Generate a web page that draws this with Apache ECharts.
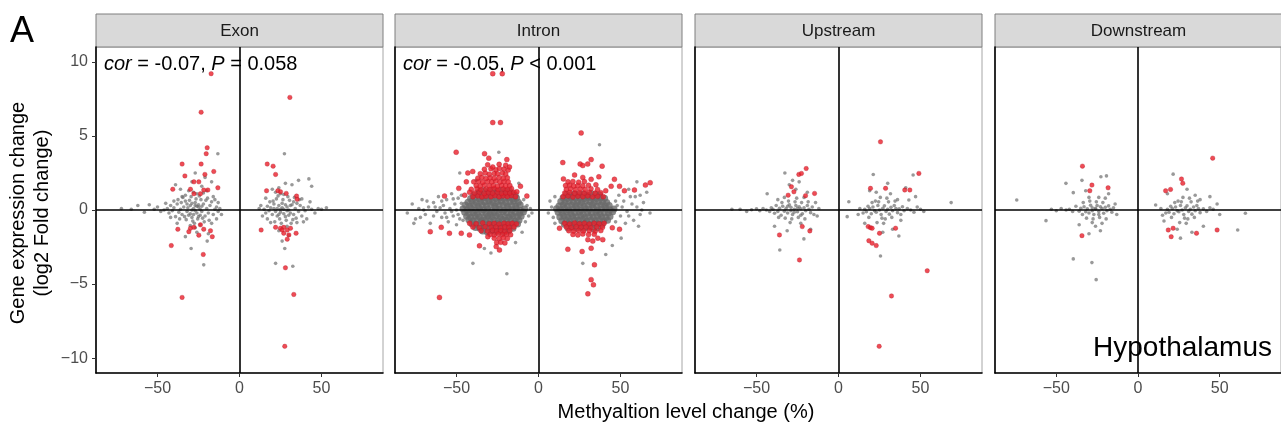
<!DOCTYPE html>
<html>
<head>
<meta charset="utf-8">
<script src="https://cdn.jsdelivr.net/npm/echarts@6/dist/echarts.min.js"></script>
<style>
  html, body { margin: 0; padding: 0; background: #fff; }
  #chart { width: 1281px; height: 427px; }
</style>
</head>
<body>
<div id="chart"></div>
<script>
// facet names and axis ticks
var panels = ['Exon', 'Intron', 'Upstream', 'Downstream'];
var xTicks = [-50, 0, 50];
var yTicks = [-10, -5, 0, 5, 10];
var corLabels = ['{i|cor} = -0.07, {i|P} = 0.058', '{i|cor} = -0.05, {i|P} < 0.001', '', ''];

// ---- Exon ----
var exonGrey = [
  [-28,0.1],[-26,-0.2],[-30,0.3],[-24,0.05],[-32,-0.1],[-27,0.5],[-29,-0.5],[-25,0.35],[-31,-0.35],[-23,-0.1],
  [-34,0.2],[-22,0.4],[-35,-0.3],[-21,-0.4],[-33,0.6],[-26.5,0.75],[-28.5,-0.75],[-20,0.1],[-36,0.05],[-19,-0.2],
  [-37,-0.15],[-18,0.3],[-38,0.4],[-17,0.55],[-39,-0.45],[-16,-0.3],[-40,0.15],[-15,0.05],[-41,-0.05],[-14,0.2],
  [-42,0.3],[-13,-0.1],[-43,-0.2],[-44,0.1],[-46,0.0],[-12,0.1],[-25.5,-0.6],[-30.5,0.65],[-23.5,0.7],[-32.5,-0.65],
  [-27.5,-0.9],[-24.5,0.95],[-29.5,0.9],[-21.5,-0.8],[-34.5,0.85],[-22.5,-0.55],[-35.5,0.5],[-20.5,0.65],[-36.5,-0.6],[-19.5,0.8],
  [-37.5,0.7],[-18.5,-0.7],[-26,1.1],[-30,-1.05],[-24,-1.0],[-33,1.0],[-28,1.2],[-31,1.3],[-22,1.15],[-27,-1.2],
  [-25,0.2],[-29,0.0],[-27,-0.05],[-26,0.25],[-30,-0.25],[-28,-0.3],[-24,-0.35],[-32,0.4],[-23,0.25],[-33.5,-0.45],
  [-31.5,0.15],[-29,0.45],[-25,-0.45],[-27,0.3],[-35,0.9],[-38,-0.9],[-40,0.6],[-42,-0.5],[-45,0.45],[-48,-0.1],
  [-50,0.2],[-52,0.05],[-55,0.35],[-58,-0.15],[-62,0.3],[-66,0.05],[-72,0.1],[-16,0.9],[-14,-0.6],[-17,-0.9],
  [-15,0.7],[-13,0.5],[-11,-0.3],[-20,1.3],[-36,1.4],[-23,1.6],[-29,1.9],[-39,1.7],[-21,2.2],[-19,-1.6],
  [-26,-1.5],[-13.2,3.8],[-21.8,-3.7],[-29.5,-2.6],[-19.7,-2.1],[-33,-1.8],[-27,2.5],[-17,1.9],
  [27,0.05],[25,-0.15],[29,0.2],[23,0.1],[31,-0.2],[26,0.45],[28,-0.45],[24,0.3],[30,-0.35],[22,-0.1],
  [32,0.35],[21,0.4],[33,-0.3],[20,-0.3],[34,0.1],[19,0.15],[35,0.45],[18,-0.05],[36,-0.1],[17,0.25],
  [37,0.3],[16,-0.2],[38,-0.4],[15,0.05],[39,0.15],[40,-0.05],[42,0.2],[44,0.05],[26.5,0.7],[28.5,-0.7],
  [24.5,-0.6],[30.5,0.65],[22.5,0.75],[32.5,-0.65],[20.5,0.6],[34.5,-0.55],[18.5,0.55],[36.5,0.7],[25.5,-0.9],[29.5,0.9],
  [23.5,0.95],[31.5,-0.9],[21.5,-0.8],[33.5,0.85],[27,1.05],[25,1.1],[29,-1.1],[22,1.2],[35,-0.85],[17,-0.6],
  [19,-0.85],[38,0.75],[26,0.15],[28,0.35],[30,0.0],[24,-0.3],[27,-0.25],[25,0.05],[29,-0.05],[31,0.3],
  [23,-0.4],[21,0.1],[33,0.55],[46,-0.2],[48,0.1],[50,0.05],[53,0.15],[41,-0.6],[43,0.55],[14,-0.4],
  [13,0.3],[12,0.1],[16,0.8],[39,-0.8],[24,1.5],[32,1.7],[20,1.4],[28,1.8],[27.4,3.8],[42.3,2.1],
  [44,1.6],[36,2.0],[27.6,-2.6],[22,-3.6],[32.5,-3.8],[30,-1.7],[24,-1.4],[26,-2.1]
];
var exonRed = [
  [-17.3,9.2],[-23.4,6.6],[-19.7,4.2],[-20.3,3.8],[-35,3.1],[-23.4,3.1],[-15.7,2.6],[-33.3,2.3],[-21.1,2.4],
  [-27.8,1.9],[-24.8,1.9],[-13.2,1.5],[-40.7,1.4],[-29.9,1.4],[-21.8,1.35],[-19.3,1.35],[-27.8,1.1],[-23.8,1.1],
  [-37.6,-1.3],[-29.9,-1.23],[-27.8,-1.17],[-30.9,-1.46],[-24.8,-1.7],[-17.7,-1.4],[-16.6,-1.8],[-21.8,-1.3],
  [-41.6,-2.4],[-22.1,-3.0],[-23.8,-1.0],[-35,-5.9],
  [30.7,7.6],[16.9,3.1],[20.5,2.96],[22,2.4],[16.5,1.3],[23.4,1.3],[25,1.23],[28.5,1.12],[34.8,0.94],[35.2,0.72],
  [13.2,-1.35],[22,-1.17],[25,-1.23],[27,-1.17],[29.1,-1.35],[27,-1.57],[30.1,-1.68],[29.1,-1.97],[26,-1.35],[31.1,-1.23],
  [34.5,-1.57],[28,-3.9],[33.1,-5.7],[27.6,-9.2]
];

// ---- Intron ----
// dense cores
var intronGreyCore = [
  [-46,0.08],[-43.5,0.0],[-41,0.12],[-38.5,-0.02],[-36,0.1],[-33.5,0.01],[-31,0.07],[-28.5,-0.03],[-26,0.11],[-23.5,0.04],[-21,-0.01],[-18.5,0.09],[-16,0.02],[-13.5,0.1],[-11,-0.03],[-8.5,0.06],
  [-45,-0.15],[-42.3,-0.24],[-39.8,-0.18],[-37.2,-0.27],[-34.6,-0.14],[-32,-0.22],[-29.5,-0.3],[-27,-0.17],[-24.4,-0.25],[-21.8,-0.12],[-19.3,-0.21],[-16.7,-0.28],[-14.1,-0.16],[-11.6,-0.23],[-9.2,-0.13],
  [-44.5,0.34],[-42,0.26],[-39.3,0.37],[-36.8,0.24],[-34.2,0.33],[-31.7,0.28],[-29.1,0.38],[-26.6,0.25],[-24,0.32],[-21.5,0.36],[-19,0.23],[-16.4,0.31],[-13.9,0.27],[-11.2,0.35],
  [-43.8,-0.42],[-41.2,-0.5],[-38.6,-0.4],[-36,-0.48],[-33.4,-0.52],[-30.9,-0.41],[-28.3,-0.47],[-25.8,-0.39],[-23.2,-0.51],[-20.6,-0.44],[-18.1,-0.49],[-15.5,-0.4],[-13,-0.46],[-10.6,-0.43],
  [-43,0.52],[-40.5,0.6],[-37.9,0.5],[-35.4,0.58],[-32.8,0.54],[-30.2,0.62],[-27.7,0.51],[-25.1,0.57],[-22.6,0.61],[-20,0.5],[-17.5,0.56],[-14.9,0.59],[-12.3,0.53],
  [-42.5,-0.66],[-39.9,-0.74],[-37.3,-0.68],[-34.8,-0.72],[-32.2,-0.65],[-29.6,-0.75],[-27.1,-0.69],[-24.5,-0.73],[-21.9,-0.64],[-19.4,-0.71],[-16.8,-0.67],[-14.2,-0.76],[-11.9,-0.7],
  [-41.4,0.78],[-38.8,0.85],[-36.2,0.76],[-33.6,0.83],[-31.1,0.8],[-28.5,0.86],[-26,0.77],[-23.4,0.82],[-20.8,0.79],[-18.3,0.84],[-15.7,0.75],[-13.4,0.81],
  [-40.6,-0.92],[-38,-0.98],[-35.4,-0.9],[-32.9,-0.97],[-30.3,-0.93],[-27.8,-1.0],[-25.2,-0.91],[-22.6,-0.96],[-20.1,-0.94],[-17.5,-0.99],[-15,-0.9],[-12.8,-0.95],
  [-39.5,1.02],[-36.9,1.08],[-34.3,1.0],[-31.8,1.07],[-29.2,1.03],[-26.6,1.1],[-24.1,1.01],[-21.5,1.06],[-19,1.04],[-16.4,1.09],[-14.2,1.0],
  [-38.4,-1.18],[-35.8,-1.24],[-33.2,-1.16],[-30.7,-1.22],[-28.1,-1.19],[-25.6,-1.25],[-23,-1.17],[-20.4,-1.21],[-17.9,-1.15],[-15.6,-1.23],
  [-36,1.25],[-33.1,1.3],[-30.5,1.24],[-27.9,1.31],[-25.3,1.27],[-22.8,1.33],[-20.2,1.26],[-17.7,1.29],
  [-34,-1.42],[-31.2,-1.48],[-28.6,-1.4],[-26,-1.47],[-23.5,-1.43],[-20.9,-1.5],[-18.4,-1.41],
  [11,0.09],[13.5,0.01],[16,0.1],[18.5,-0.02],[21,0.07],[23.5,0.12],[26,0.0],[28.5,0.08],[31,0.03],[33.5,0.11],[36,-0.01],[38.5,0.06],[41,0.1],[43.5,0.02],[46,0.07],
  [12,-0.16],[14.6,-0.23],[17.1,-0.13],[19.7,-0.26],[22.2,-0.19],[24.8,-0.14],[27.3,-0.28],[29.9,-0.18],[32.4,-0.22],[35,-0.15],[37.5,-0.25],[40.1,-0.17],[42.6,-0.21],[45.2,-0.12],
  [12.5,0.27],[15.1,0.35],[17.6,0.25],[20.2,0.33],[22.7,0.29],[25.3,0.37],[27.8,0.24],[30.4,0.32],[32.9,0.36],[35.5,0.26],[38,0.34],[40.6,0.28],[43.1,0.31],
  [13,-0.48],[15.6,-0.41],[18.1,-0.5],[20.7,-0.43],[23.2,-0.47],[25.8,-0.4],[28.3,-0.52],[30.9,-0.44],[33.4,-0.49],[36,-0.42],[38.5,-0.46],[41.1,-0.51],[43.6,-0.44],
  [13.6,0.57],[16.2,0.51],[18.7,0.6],[21.3,0.53],[23.8,0.58],[26.4,0.5],[28.9,0.62],[31.5,0.55],[34,0.52],[36.6,0.59],[39.1,0.54],[41.6,0.5],
  [14.2,-0.73],[16.8,-0.66],[19.3,-0.74],[21.9,-0.68],[24.4,-0.71],[27,-0.65],[29.5,-0.76],[32.1,-0.69],[34.6,-0.72],[37.2,-0.67],[39.7,-0.75],[42.1,-0.7],
  [15,0.83],[17.5,0.77],[20.1,0.85],[22.6,0.79],[25.2,0.82],[27.7,0.76],[30.3,0.86],[32.8,0.8],[35.4,0.78],[37.9,0.84],[40.3,0.79],
  [15.8,-0.97],[18.4,-0.91],[20.9,-0.99],[23.5,-0.93],[26,-0.96],[28.6,-0.9],[31.1,-1.0],[33.7,-0.94],[36.2,-0.92],[38.8,-0.98],
  [17,1.07],[19.5,1.01],[22.1,1.09],[24.6,1.03],[27.2,1.06],[29.7,1.0],[32.3,1.1],[34.8,1.04],[37.3,1.02],
  [18,-1.22],[20.6,-1.16],[23.1,-1.24],[25.7,-1.18],[28.2,-1.21],[30.8,-1.15],[33.3,-1.25],[35.9,-1.19]
];
// sparse tails and outliers
var intronGreyTail = [
  [-80,-0.2],[-77,0.4],[-75,-0.6],[-73,0.1],[-71,0.7],[-69,-0.3],[-67,0.2],[-66,-0.9],[-64,0.5],[-62,-0.1],
  [-61,0.9],[-59,-0.5],[-58,0.3],[-57,-0.2],[-56,0.7],[-55,-0.8],[-54,0.1],[-53,1.1],[-52,-0.4],[-51,0.4],
  [-50,-1.0],[-49,0.8],[-48,-0.6],[-47,1.0],[-50,0.0],[-53,-0.1],[-60,0.15],[-64,-0.4],[-70,0.0],
  [-76,-0.9],[-72,-0.5],[-68,0.6],[-63,0.2],[-59,0.6],[-56,-0.5],[-52,0.75],[-49,-0.3],[-47,0.45],[-46,-0.7],
  [-7,0.3],[-6,-0.4],[-5,0.1],[-8,-0.8],[-9,0.7],[-4,-0.2],
  [-40,-3.6],[-19.3,-4.3],[-24.2,3.9],[-48,2.5],[-38,2.0],[-33,-2.6],[-29,-2.9],[-14,-2.2],[-12,1.8],[-10,-1.5],
  [48,0.3],[50,-0.4],[52,0.6],[54,-0.1],[56,0.9],[58,-0.7],[60,0.2],[62,-0.3],[64,0.5],[66,1.2],
  [68,-0.2],[49,1.0],[53,-0.9],[57,0.4],[61,-1.1],[47,-0.8],[55,1.4],[59,0.9],[51,0.2],[55,-0.4],[63,0.0],[47,0.6],
  [8,0.2],[9,-0.5],[7,0.6],[10,0.9],[6,-0.2],[10,-0.9],
  [37.2,4.4],[27,-3.6],[50.4,-1.9],[45,-2.4],[60,1.9],[62,1.0],[41,-3.0]
];
var intronRed = [
  [-40,0.9],[-37,0.95],[-34.5,0.88],[-32,0.93],[-29,0.9],[-26.5,0.96],[-24,0.89],[-21.5,0.94],[-19,0.91],[-16.5,0.97],[-14,0.9],
  [-39,1.15],[-36,1.2],[-33,1.12],[-30.5,1.18],[-28,1.14],[-25,1.2],[-22.5,1.13],[-20,1.17],[-17.5,1.15],[-15,1.2],
  [-41,1.4],[-37.5,1.44],[-35,1.38],[-32,1.42],[-29.5,1.4],[-27,1.46],[-24.5,1.39],[-21.5,1.43],[-19,1.4],[-16.5,1.45],
  [-38,1.65],[-35.5,1.62],[-33,1.68],[-30,1.64],[-27.5,1.66],[-25,1.61],[-22.5,1.67],[-20,1.63],[-17.5,1.66],
  [-39.5,1.9],[-36.5,1.93],[-34,1.88],[-31,1.92],[-28.5,1.9],[-26,1.95],[-23.5,1.89],[-21,1.93],[-18.5,1.9],
  [-37,2.15],[-34.5,2.2],[-32,2.13],[-29.5,2.18],[-27,2.15],[-24,2.2],[-21.5,2.14],[-19,2.17],
  [-35.5,2.45],[-32.5,2.5],[-30,2.42],[-27,2.47],[-25,2.44],[-22,2.5],[-20,2.43],
  [-33,2.75],[-29,2.78],[-26,2.72],[-21,2.76],[-18.5,2.7],
  [-31,3.05],[-24,3.08],[-20,3.02],
  [-27.9,9.2],[-22.1,9.2],[-27.9,5.9],[-23.2,5.9],[-50.2,3.9],[-32.9,3.8],[-30.3,3.5],[-19.3,3.4],[-43.1,2.5],[-40.1,2.6],
  [-27.9,2.9],[-23.8,2.8],[-17.7,2.9],[-48.6,1.46],[-57.3,0.94],[-7.1,0.94],[-13.2,1.23],[-44,1.9],[-42,1.2],[-11,1.6],[-45,1.0],
  [-42,-0.9],[-38,-0.93],[-34,-0.88],[-30,-0.92],[-27,-0.9],[-24,-0.95],[-21,-0.89],[-18.5,-0.93],[-16,-0.9],[-13.5,-0.94],
  [-40,-1.15],[-36,-1.19],[-32.5,-1.13],[-29,-1.17],[-26,-1.15],[-23,-1.2],[-20.5,-1.14],[-18,-1.18],[-15,-1.15],
  [-35,-1.4],[-31,-1.43],[-28,-1.38],[-25.5,-1.42],[-23,-1.4],[-20.5,-1.45],[-17.5,-1.39],
  [-29.5,-1.65],[-27,-1.68],[-24.5,-1.62],[-22,-1.66],[-19.5,-1.64],[-17,-1.67],
  [-27,-1.9],[-24,-1.93],[-21.5,-1.88],[-19,-1.92],
  [-25.5,-2.2],[-23,-2.18],[-20.5,-2.22],
  [-66,-1.46],[-59.3,-1.17],[-54.3,-1.57],[-47.1,-1.57],[-42.1,-1.68],[-36,-2.42],[-30.9,-1.8],[-25.8,-2.47],[-23.8,-2.7],[-60.4,-5.9],
  [15,0.9],[18,0.94],[21,0.88],[24,0.93],[27,0.9],[30,0.95],[33,0.89],[36,0.92],[39.5,0.9],
  [16,1.15],[19,1.19],[22,1.13],[25,1.17],[28,1.15],[31,1.2],[34.5,1.14],[38,1.17],
  [17,1.4],[19.5,1.43],[22.5,1.38],[25.5,1.42],[28.5,1.4],[32,1.44],[36,1.39],
  [16.5,1.65],[19,1.68],[21.5,1.62],[24,1.66],[27,1.64],[30.5,1.67],
  [18,1.9],[21,1.93],[24.5,1.88],[28,1.92],
  [26,5.2],[14.8,3.2],[25.4,3.1],[27,3.0],[30,3.1],[32.1,3.4],[38.8,2.96],[15.2,2.1],[22,2.36],[27,2.2],
  [32.1,2.07],[36.8,2.24],[46.3,2.07],[44.3,1.6],[49.4,1.6],[52.4,1.3],[58.5,1.35],[65.2,1.68],[68.1,1.84],[41,1.3],[35,1.7],
  [16,-0.9],[19,-0.94],[22,-0.88],[25,-0.93],[28,-0.9],[31,-0.95],[34,-0.89],[37,-0.92],[40,-0.9],
  [17,-1.15],[20,-1.19],[23,-1.13],[26,-1.17],[29,-1.15],[32,-1.2],[35.5,-1.14],[39,-1.17],
  [18.5,-1.4],[21.5,-1.43],[24.5,-1.38],[27.5,-1.42],[31,-1.4],[34.5,-1.44],[38,-1.39],
  [21,-1.65],[24,-1.68],[27,-1.62],[30.5,-1.66],[34,-1.64],
  [12.8,-1.23],[49.4,-1.3],[45,-1.2],[36.2,-1.9],[39.2,-2.0],[30.1,-2.0],[33.1,-2.1],[17.9,-2.65],[26.6,-2.8],[32.1,-2.58],
  [34.1,-3.7],[32.1,-4.7],[33.5,-5.05],[30.1,-5.66]
];

// ---- Upstream ----
var upGrey = [
  [-27,0.05],[-25,-0.12],[-29,0.18],[-23,0.08],[-31,-0.2],[-26,0.3],[-28,-0.3],[-24,0.22],[-30,0.35],[-22,-0.25],
  [-32,0.1],[-21,0.15],[-33,-0.08],[-20,-0.05],[-34,0.25],[-19,0.3],[-35,-0.35],[-18,0.05],[-36,0.12],[-17,-0.18],
  [-37,-0.1],[-16,0.2],[-38,0.3],[-15,-0.3],[-39,-0.22],[-40,0.05],[-41,0.15],[-42,-0.1],[-44,0.0],[-46,0.1],
  [-48,-0.05],[-50,0.08],[-53,0.02],[-56,-0.1],[-60,0.05],[-65,0.05],[-26.5,0.55],[-28.5,-0.6],[-24.5,-0.5],[-30.5,0.6],
  [-22.5,0.5],[-32.5,-0.55],[-20.5,-0.6],[-34.5,0.5],[-18.5,0.55],[-36.5,-0.5],[-25.5,0.8],[-29.5,-0.85],[-23,-0.9],[-33,0.85],
  [-21,0.85],[-37,0.7],[-14,0.5],[-13,-0.4],[-12,0.1],[-27,-0.15],[-25,0.12],[-29,-0.05],[-31,0.25],[-23,-0.35],
  [-32.7,2.5],[-43.5,1.1],[-35.8,-2.7],[-31.3,-1.4],[-21.1,-1.95],[-26,1.4],[-19,1.2],[-39,-1.1],[-17,-1.3],[-28,2.0],
  [-24,1.9],[-30,1.7],
  [25,0.0],[23,-0.15],[27,0.12],[21,0.2],[29,-0.1],[24,0.3],[26,-0.3],[22,-0.05],[28,0.28],[20,-0.25],
  [30,0.05],[19,0.1],[31,-0.28],[18,0.25],[32,0.18],[17,-0.12],[33,-0.05],[16,0.05],[34,0.3],[15,-0.2],
  [35,0.1],[36,-0.18],[37,0.08],[38,-0.3],[39,0.22],[40,-0.05],[42,0.1],[44,0.0],[46,-0.15],[48,0.2],
  [50,0.05],[52,-0.1],[13,0.1],[12,-0.3],[24.5,0.55],[26.5,-0.55],[22.5,0.6],[28.5,-0.6],[20.5,0.5],[30.5,0.55],
  [18.5,-0.5],[32.5,-0.5],[34.5,0.6],[25.5,0.85],[23.5,-0.85],[29.5,0.8],[27.5,-0.9],[36,0.7],[38,-0.7],[21.2,2.4],
  [45.5,2.36],[68.7,0.5],[6.3,0.56],[5.3,-0.45],[25.6,-3.1],[36.8,-1.75],[31.7,1.1],[42.9,0.67],[30,1.8],[19,1.3],
  [33,-1.3],[27,-1.5],[41,1.5],[47,0.9],[16,-0.9],[23,1.2]
];
var upRed = [
  [25.6,4.6],[-19.7,2.8],[-24.2,2.4],[-22.6,2.47],[49,2.47],[-28.7,1.57],[-27.2,1.23],[-30.7,1.0],[-20.1,0.97],[-14.6,1.12],
  [19.5,1.46],[28.7,1.46],[40.4,1.35],[43.5,1.35],[-36,-1.68],[-22.1,-1.12],[-17.5,-1.41],[-23.8,-3.37],
  [18.1,-1.12],[19.5,-1.19],[20.5,-1.23],[25,-1.57],[34.8,-1.23],[18.5,-2.07],[20.5,-2.24],[23,-2.4],
  [54.1,-4.1],[32.3,-5.8],[24.8,-9.2]
];

// ---- Downstream ----
var downGrey = [
  [-26,0.05],[-24,-0.1],[-28,0.15],[-22,0.1],[-30,-0.2],[-25,0.3],[-27,-0.3],[-23,0.22],[-29,0.32],[-21,-0.22],
  [-31,0.08],[-20,0.18],[-32,-0.12],[-19,-0.05],[-33,0.22],[-18,0.28],[-34,-0.3],[-17,0.05],[-35,0.12],[-16,-0.15],
  [-36,-0.08],[-15,0.15],[-38,0.25],[-40,-0.1],[-42,0.05],[-44,0.0],[-47,0.1],[-50,-0.05],[-53,0.05],[-25.5,0.55],
  [-27.5,-0.6],[-23.5,-0.5],[-29.5,0.6],[-21.5,0.5],[-31.5,-0.55],[-19.5,-0.6],[-33.5,0.5],[-24,0.85],[-28,-0.85],[-22,-0.9],
  [-30,0.85],[-20,0.8],[-26,-1.1],[-14,0.4],[-13,-0.3],[-26,0.12],[-24,-0.3],[-28,-0.05],[-74.2,0.67],[-56.3,-0.72],
  [-44.1,1.8],[-34.3,2.0],[-22.7,2.24],[-19.3,2.3],[-39.6,1.17],[-39.6,-3.3],[-28.2,-3.55],[-25.6,-4.7],[-32,1.3],[-18,1.1],
  [-36,-1.0],[-23,-1.4],[-30,-1.6],
  [27,0.0],[25,-0.12],[29,0.15],[23,0.2],[31,-0.1],[26,0.3],[28,-0.3],[24,-0.05],[30,0.28],[22,-0.25],
  [32,0.05],[21,0.1],[33,-0.28],[20,0.25],[34,0.2],[19,-0.15],[35,-0.05],[18,0.05],[36,0.3],[17,-0.2],
  [37,0.1],[38,-0.18],[40,0.08],[42,-0.1],[44,0.15],[46,0.05],[14,0.1],[15,-0.35],[26.5,0.55],[28.5,-0.55],
  [24.5,0.6],[30.5,-0.6],[22.5,0.5],[32.5,0.55],[20.5,-0.5],[34.5,-0.5],[36.5,0.6],[27.5,0.85],[25.5,-0.85],[31.5,0.8],
  [29.5,-0.9],[38,0.7],[21.5,2.42],[61,-1.35],[65.7,-0.22],[48.4,0.4],[10.8,0.34],[26,-1.9],[15.9,-0.74],[30,1.4],
  [35,1.0],[24,-1.3],[33,-1.5],[40,-1.1],[18,1.1],[44,0.9],[50,-0.3]
];
var downRed = [
  [-34,2.96],[-28.2,1.68],[-29.5,1.3],[-18.3,1.5],[-34.3,-1.73],[45.7,3.5],[26.6,2.09],[27.4,1.8],[16.9,1.3],[19.9,1.39],
  [18.5,-1.35],[21.5,-1.23],[20.3,-1.8],[35.8,-1.57],[48.4,-1.35]
];

var greyData = [exonGrey, intronGreyTail, upGrey, downGrey];
var coreData = [[], intronGreyCore, [], []];
var redData = [exonRed, intronRed, upRed, downRed];

var chart = echarts.init(document.getElementById('chart'));
var FONT = '"Liberation Sans", Arial, Helvetica, sans-serif';
var lefts = [96, 395, 695, 995];
var pw = 287, top0 = 47, ph = 326;

function minus(v) { return v < 0 ? '\u2212' + (-v) : String(v); }

var grids = [], xAxes = [], yAxes = [], series = [], graphics = [];
for (var k = 0; k < 4; k++) {
  grids.push({ left: lefts[k], top: top0, width: pw, height: ph, show: true, borderColor: '#a6a6a6', borderWidth: 1, backgroundColor: '#fff' });
  xAxes.push({
    gridIndex: k, type: 'value', min: -87.5, max: 87.5,
    axisLine: { onZero: false, lineStyle: { color: '#000', width: 1.6 } },
    axisTick: { customValues: xTicks, length: 4, lineStyle: { color: '#333' } },
    axisLabel: { customValues: xTicks, color: '#4d4d4d', fontSize: 16, fontFamily: FONT, margin: 8, formatter: minus },
    splitLine: { show: false }
  });
  yAxes.push({
    gridIndex: k, type: 'value', min: -11, max: 11,
    axisLine: { onZero: false, lineStyle: { color: '#000', width: 1.6 } },
    axisTick: { show: k === 0, customValues: yTicks, length: 4, lineStyle: { color: '#333' } },
    axisLabel: { show: k === 0, customValues: yTicks, color: '#4d4d4d', fontSize: 16, fontFamily: FONT, margin: 8, formatter: minus },
    splitLine: { show: false }
  });
  series.push({
    type: 'scatter', xAxisIndex: k, yAxisIndex: k, data: greyData[k],
    symbolSize: 3.6,
    itemStyle: { color: 'rgba(105,105,105,0.85)' },
    markLine: {
      silent: true, symbol: 'none', label: { show: false },
      lineStyle: { color: '#000', width: 1.6, type: 'solid' },
      data: [{ xAxis: 0 }, { yAxis: 0 }]
    },
    z: 2
  });
  if (coreData[k].length) {
    series.push({
      type: 'scatter', xAxisIndex: k, yAxisIndex: k, data: coreData[k],
      symbolSize: 7,
      itemStyle: { color: '#6b6b6b' },
      z: 2
    });
  }
  series.push({
    type: 'scatter', xAxisIndex: k, yAxisIndex: k, data: redData[k],
    symbolSize: k === 1 ? 5 : 4.5,
    itemStyle: { color: '#ea1f2a', borderColor: '#b01a2a', borderWidth: 0.4 },
    z: 3
  });
  // facet strip
  graphics.push({ type: 'rect', shape: { x: lefts[k], y: 14, width: pw, height: 33 }, style: { fill: '#d9d9d9', stroke: '#7f7f7f', lineWidth: 1 } });
  graphics.push({ type: 'text', x: lefts[k] + pw / 2, y: 31, style: { text: panels[k], fill: '#1a1a1a', font: '17px ' + FONT, textAlign: 'center', textVerticalAlign: 'middle' } });
  if (corLabels[k]) {
    graphics.push({
      type: 'text', x: lefts[k] + 8, y: 64,
      style: {
        text: corLabels[k], fill: '#000', font: '20px ' + FONT, textVerticalAlign: 'middle',
        rich: { i: { fontStyle: 'italic', fontSize: 20, fontFamily: 'Liberation Sans, Arial, sans-serif', fill: '#000' } }
      }
    });
  }
}

graphics.push({ type: 'text', x: 22, y: 32, style: { text: 'A', fill: '#000', font: '36px ' + FONT, textAlign: 'center', textVerticalAlign: 'middle' } });
graphics.push({ type: 'text', x: 30, y: 213, rotation: Math.PI / 2, style: { text: 'Gene expression change\n(log2 Fold change)', fill: '#000', font: '20px ' + FONT, textAlign: 'center', textVerticalAlign: 'middle', lineHeight: 24 } });
graphics.push({ type: 'text', x: 686, y: 412, style: { text: 'Methyaltion level change (%)', fill: '#000', font: '20px ' + FONT, textAlign: 'center', textVerticalAlign: 'middle' } });
graphics.push({ type: 'text', x: 1272, y: 348, style: { text: 'Hypothalamus', fill: '#000', font: '28px ' + FONT, textAlign: 'right', textVerticalAlign: 'middle' } });

chart.setOption({
  animation: false,
  backgroundColor: '#fff',
  grid: grids,
  xAxis: xAxes,
  yAxis: yAxes,
  series: series,
  graphic: graphics
});
</script>
</body>
</html>
